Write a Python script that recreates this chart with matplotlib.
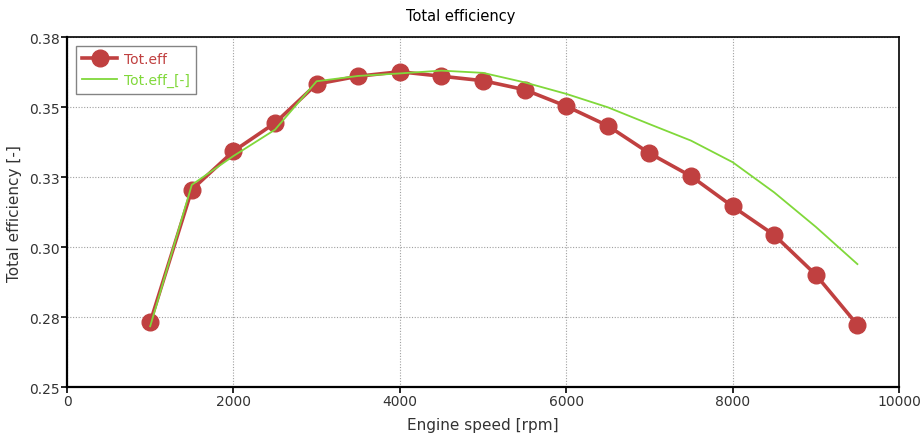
import matplotlib
matplotlib.use("Agg")
import matplotlib.pyplot as plt
from matplotlib.ticker import FormatStrFormatter, MultipleLocator

speed = [1000, 1500, 2000, 2500, 3000, 3500, 4000, 4500, 5000,
         5500, 6000, 6500, 7000, 7500, 8000, 8500, 9000, 9500]
tot_eff = [0.2732, 0.3206, 0.3343, 0.3444, 0.3583, 0.3611, 0.3627, 0.3611, 0.3595,
           0.3563, 0.3504, 0.3434, 0.3336, 0.3254, 0.3146, 0.3044, 0.2902, 0.2723]
tot_eff_ref = [0.2718, 0.3223, 0.3326, 0.3420, 0.3593, 0.3612, 0.3621, 0.3631, 0.3623,
               0.3589, 0.3548, 0.3500, 0.3440, 0.3381, 0.3304, 0.3196, 0.3073, 0.2940]

red = "#c04040"
green = "#80d83a"
text_col = "#333333"

plt.rcParams["font.family"] = ["DejaVu Sans"]

fig = plt.figure(figsize=(9.21, 4.39), dpi=100)
ax = fig.add_axes([67 / 921, (439 - 388.3) / 439, (899 - 67) / 921, (388.3 - 38.3) / 439])

ax.plot(speed, tot_eff, color=red, lw=2.6, marker="o", markersize=12,
        label="Tot.eff", zorder=3)
ax.plot(speed, tot_eff_ref, color=green, lw=1.3, label="Tot.eff_[-]", zorder=4)

ax.set_xlim(0, 10000)
ax.set_ylim(0.25, 0.375)
ax.xaxis.set_major_locator(MultipleLocator(2000))
ax.yaxis.set_major_locator(MultipleLocator(0.025))
ax.yaxis.set_major_formatter(FormatStrFormatter("%.2f"))

ax.grid(True, color="#a0a0a0", linestyle=(0, (1, 1.5)), linewidth=0.8)
ax.set_axisbelow(True)

for side in ["left", "bottom"]:
    ax.spines[side].set_linewidth(1.6)
for side in ["top", "right"]:
    ax.spines[side].set_linewidth(1.2)

ax.tick_params(axis="both", direction="out", length=4, width=1.2,
               labelsize=10, labelcolor=text_col, pad=1)

fig.text(0.5, 1 - 17 / 439, "Total efficiency", fontsize=10.5, color="black",
         ha="center", va="center")
ax.set_xlabel("Engine speed [rpm]", fontsize=11, color=text_col, labelpad=6)
ax.set_ylabel("Total efficiency [-]", fontsize=11, color=text_col, labelpad=5)

leg = ax.legend(loc="upper left", bbox_to_anchor=(0.0108, 0.975), borderaxespad=0,
                fontsize=10, frameon=True, fancybox=False, edgecolor="#666666",
                handlelength=2.5, handletextpad=0.5, borderpad=0.45,
                labelspacing=0.5)
leg.get_frame().set_linewidth(1.0)
for txt, col in zip(leg.get_texts(), [red, green]):
    txt.set_color(col)

fig.savefig("out.png", dpi=100)
